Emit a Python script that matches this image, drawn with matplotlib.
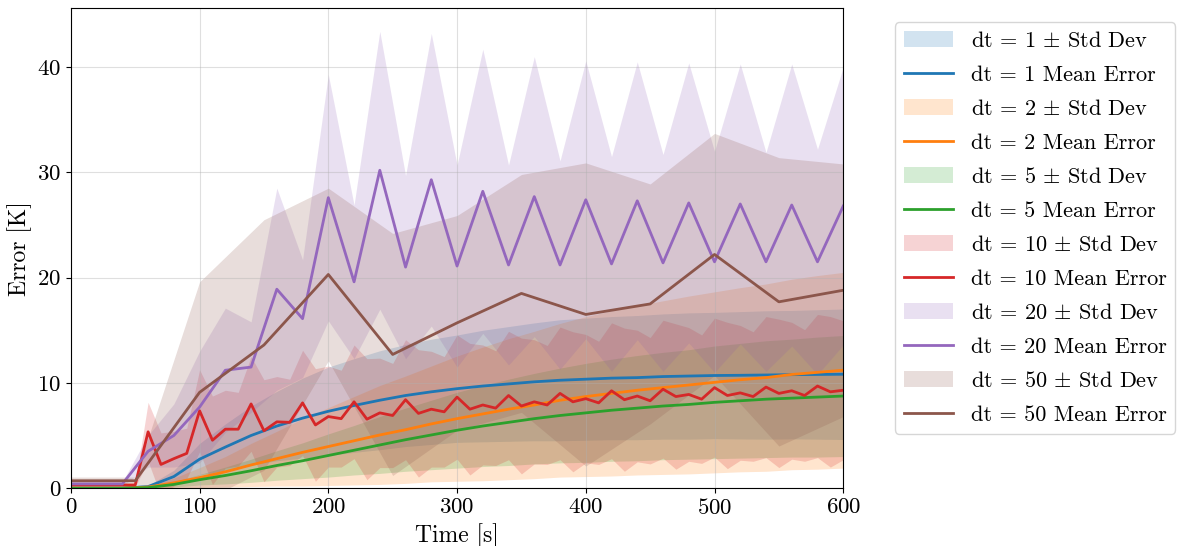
import matplotlib.pyplot as plt
import numpy as np

plt.rcParams['font.family'] = 'serif'
plt.rcParams['font.serif'] = ['cmr10']
plt.rcParams['mathtext.fontset'] = 'cm'
plt.rcParams['axes.formatter.use_mathtext'] = True
plt.rcParams['axes.unicode_minus'] = False

# dt = 1, 2, 5: smooth curves, sampled every 20 s
t_fine = np.arange(0, 601, 20)

mean_dt1 = [0.0, 0.0, 0.0, 0.15, 1.1, 2.75, 3.9, 5.0, 5.9, 6.65, 7.3, 7.85, 8.35, 8.8, 9.15, 9.45,
            9.7, 9.9, 10.1, 10.25, 10.35, 10.45, 10.5, 10.6, 10.65, 10.7, 10.72, 10.75, 10.78, 10.8, 10.82]
std_dt1 = [0.0, 0.0, 0.0, 0.1, 0.6, 1.5, 2.2, 2.8, 3.3, 3.8, 4.2, 4.45, 4.7, 4.85, 5.0, 5.1,
           5.3, 5.45, 5.6, 5.75, 5.8, 5.85, 5.9, 5.95, 6.0, 6.0, 6.05, 6.1, 6.1, 6.15, 6.2]

mean_dt2 = [0.0, 0.0, 0.0, 0.1, 0.5, 1.0, 1.55, 2.2, 2.8, 3.4, 3.95, 4.5, 5.05, 5.55, 6.1, 6.6,
            7.05, 7.5, 7.9, 8.35, 8.7, 9.0, 9.3, 9.55, 9.8, 10.05, 10.3, 10.5, 10.8, 11.0, 11.2]
std_dt2 = [0.0, 0.0, 0.0, 0.1, 0.45, 0.95, 1.45, 2.05, 2.6, 3.2, 3.7, 4.2, 4.7, 5.1, 5.5, 5.95,
           6.35, 6.7, 7.0, 7.3, 7.6, 7.85, 8.05, 8.25, 8.45, 8.6, 8.75, 8.9, 9.05, 9.2, 9.3]

mean_dt5 = [0.0, 0.0, 0.0, 0.05, 0.35, 0.8, 1.2, 1.65, 2.15, 2.6, 3.1, 3.6, 4.1, 4.6, 5.05, 5.5,
            5.9, 6.25, 6.6, 6.9, 7.15, 7.4, 7.6, 7.8, 7.95, 8.15, 8.3, 8.45, 8.55, 8.65, 8.75]
std_dt5 = [0.0, 0.0, 0.0, 0.05, 0.25, 0.5, 0.8, 1.1, 1.4, 1.7, 2.05, 2.35, 2.7, 3.0, 3.3, 3.6,
           3.85, 4.1, 4.3, 4.5, 4.7, 4.85, 5.0, 5.1, 5.2, 5.35, 5.45, 5.55, 5.6, 5.7, 5.75]

# dt = 10
t_dt10 = np.arange(0, 601, 10)
mean_dt10 = [0.3, 0.3, 0.3, 0.3, 0.3, 0.3, 5.35, 2.25, 2.8, 3.3, 7.35, 4.55, 5.6, 5.6, 8.0, 5.45,
             6.3, 6.25, 8.1, 6.0, 6.8, 6.6, 8.2, 6.55, 7.15, 6.9, 8.4, 7.1, 7.5, 7.25, 8.65,
             7.5, 7.9, 7.6, 8.8, 7.8, 8.2, 7.9, 9.0, 8.2, 8.5, 8.1, 9.25, 8.4, 8.75, 8.3, 9.4,
             8.7, 8.9, 8.45, 9.55, 8.8, 9.05, 8.7, 9.6, 9.0, 9.25, 8.8, 9.7, 9.15, 9.3]
std_dt10 = [0.15, 0.15, 0.15, 0.15, 0.15, 0.15, 2.8, 3.0, 2.6, 2.4, 3.9, 4.2, 3.7, 3.5, 4.5, 4.85,
            4.3, 4.1, 5.0, 5.35, 4.8, 4.6, 5.4, 5.75, 5.2, 4.95, 5.7, 6.05, 5.5, 5.25, 5.9,
            6.25, 5.7, 5.45, 6.1, 6.45, 5.9, 5.65, 6.3, 6.65, 6.1, 5.85, 6.45, 6.8, 6.25, 6.0, 6.55,
            6.9, 6.35, 6.1, 6.6, 6.95, 6.4, 6.15, 6.7, 7.05, 6.5, 6.25, 6.8, 7.15, 6.6]

# dt = 20
t_dt20 = np.arange(0, 601, 20)
mean_dt20 = [0.4, 0.4, 0.4, 3.5, 5.0, 7.7, 11.2, 11.5, 18.9, 16.1, 27.6, 19.6, 30.2, 21.0, 29.3, 21.1,
             28.2, 21.2, 27.7, 21.2, 27.4, 21.3, 27.3, 21.4, 27.1, 21.5, 27.0, 21.5, 26.9, 21.5, 26.8]
std_dt20 = [0.2, 0.2, 0.2, 1.5, 3.0, 5.3, 5.9, 4.3, 9.6, 5.6, 11.7, 7.3, 13.2, 8.7, 13.9, 9.6,
            13.5, 9.5, 13.3, 9.9, 13.2, 10.2, 13.2, 10.3, 13.3, 10.5, 13.3, 10.4, 13.4, 10.7, 13.2]

# dt = 50
t_dt50 = np.arange(0, 601, 50)
mean_dt50 = [0.7, 0.7, 9.1, 13.6, 20.3, 12.7, 15.7, 18.5, 16.5, 17.5, 22.2, 17.7, 18.8]
std_dt50 = [0.35, 0.35, 10.5, 11.9, 8.2, 11.5, 10.2, 11.3, 14.4, 11.4, 11.5, 13.7, 12.0]

series = [
    (1, t_fine, mean_dt1, std_dt1),
    (2, t_fine, mean_dt2, std_dt2),
    (5, t_fine, mean_dt5, std_dt5),
    (10, t_dt10, mean_dt10, std_dt10),
    (20, t_dt20, mean_dt20, std_dt20),
    (50, t_dt50, mean_dt50, std_dt50),
]
cores = ['tab:blue', 'tab:orange', 'tab:green', 'tab:red', 'tab:purple', 'tab:brown']

fig = plt.figure(figsize=(11.81, 5.46), dpi=100)
ax = fig.add_axes([0.060, 0.106, 0.654, 0.879])

for (dt, t, media, desvio), cor in zip(series, cores):
    media = np.array(media)
    desvio = np.array(desvio)
    ax.fill_between(t, media - desvio, media + desvio, color=cor, alpha=0.2, linewidth=0,
                    label=rf'dt = {dt} $\pm$ Std Dev')
    ax.plot(t, media, color=cor, linewidth=2, label=f'dt = {dt} Mean Error')

ax.set_xlim(0, 600)
ax.set_ylim(0, 45.6)
ax.set_xlabel('Time [s]', fontsize=17)
ax.set_ylabel('Error [K]', fontsize=17)
ax.tick_params(labelsize=16.5)
ax.grid(True, alpha=0.4)
ax.legend(loc='upper left', bbox_to_anchor=(1.067, 0.971), borderaxespad=0, fontsize=16,
          handlelength=2.2, labelspacing=0.64)

plt.savefig('out.png', dpi=100)
